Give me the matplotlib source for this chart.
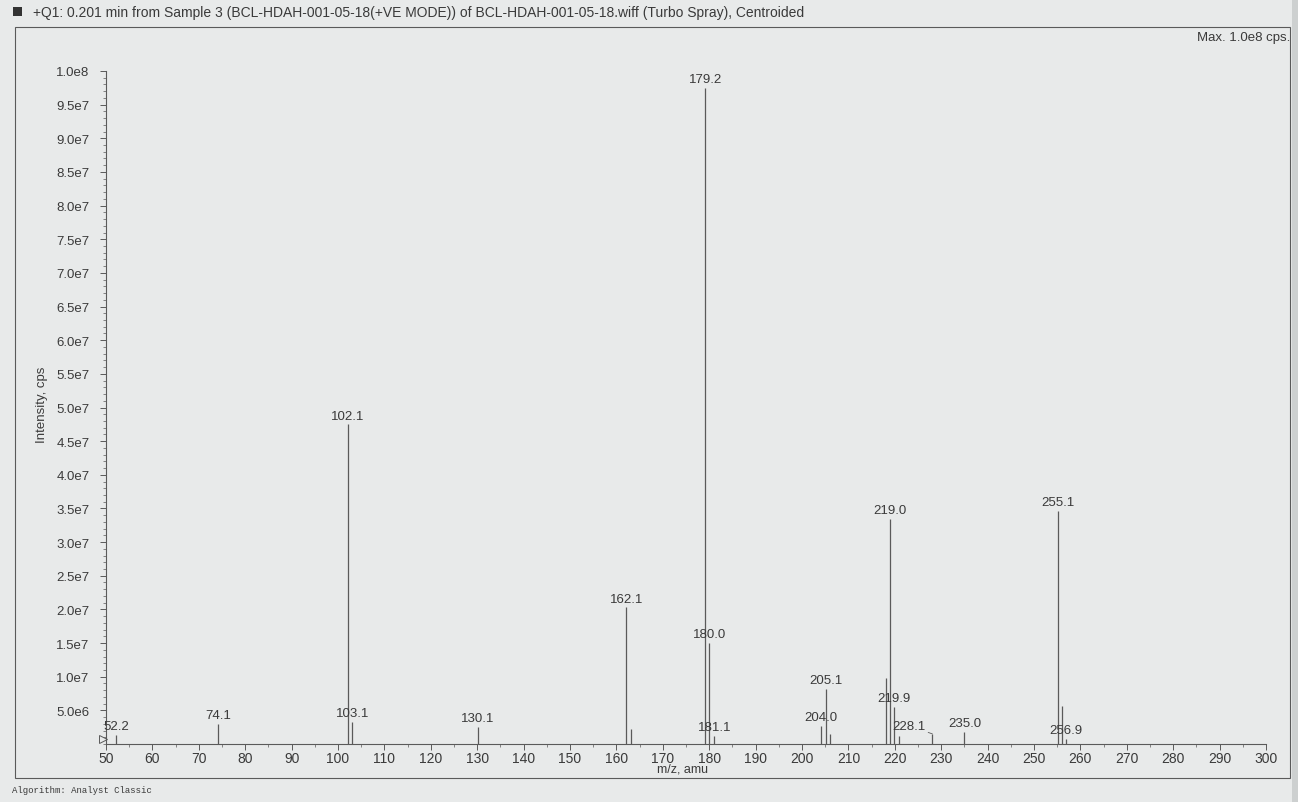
import matplotlib

matplotlib.use("Agg")
import matplotlib.pyplot as plt
import numpy as np
from matplotlib.patches import Rectangle
from matplotlib.ticker import FuncFormatter, MultipleLocator

# centroided peak list: m/z and intensity (cps)
peak_mz = [52.2, 74.1, 102.1, 103.1, 130.1, 162.1, 163.1, 179.2, 180.0, 181.1,
           204.0, 205.1, 206.0, 218.1, 219.0, 219.9, 221.0, 228.1, 235.0,
           255.1, 256.1, 256.9]
peak_int = [1.3e6, 3.0e6, 4.75e7, 3.3e6, 2.5e6, 2.03e7, 2.2e6, 9.75e7, 1.5e7, 1.2e6,
            2.7e6, 8.2e6, 1.5e6, 9.8e6, 3.35e7, 5.5e6, 1.2e6, 1.5e6, 1.8e6,
            3.46e7, 5.6e6, 0.8e6]
labelled_mz = [52.2, 74.1, 102.1, 103.1, 130.1, 162.1, 179.2, 180.0, 181.1,
               204.0, 205.1, 219.0, 219.9, 228.1, 235.0, 255.1, 256.9]

x_range = (50, 300)
y_range = (0, 1.0e8)
y_ticks = np.arange(5e6, 1.0e8 + 1, 5e6)

title = ("+Q1: 0.201 min from Sample 3 (BCL-HDAH-001-05-18(+VE MODE)) of "
         "BCL-HDAH-001-05-18.wiff (Turbo Spray), Centroided")
max_text = "Max. 1.0e8 cps."
footer = "Algorithm: Analyst Classic"

W, H = 1298, 803
INK = "#3a3a3a"
LINE = "#5a5a5a"

plt.rcParams["font.family"] = ["Liberation Sans", "DejaVu Sans"]


def fx(px):
    return px / W


def fy(py):
    return 1 - py / H


def sci_label(v, _pos=None):
    mant, exp = f"{v:.1e}".split("e")
    return f"{mant}e{int(exp)}"


fig = plt.figure(figsize=(W / 100, H / 100), dpi=100)
fig.patch.set_facecolor("#e8eaea")

# outer frame of the printed report
fig.patches.append(Rectangle((fx(15), fy(779)), fx(1290) - fx(15), fy(28) - fy(779),
                             transform=fig.transFigure, fill=False, ec=LINE, lw=0.8))
fig.patches.append(Rectangle((fx(1292), 0), 1 - fx(1292), 1,
                             transform=fig.transFigure, fc="#cdd0d0", ec="none"))
fig.patches.append(Rectangle((fx(13), fy(17)), fx(9), fy(8) - fy(17),
                             transform=fig.transFigure, fc="#333333", ec="none"))

fig.text(fx(33), fy(13), title, fontsize=10, color=INK, va="center")
fig.text(fx(1290), fy(38), max_text, fontsize=9.5, color=INK, ha="right", va="center")
fig.text(fx(12), fy(791), footer, fontsize=6.5, color=INK, va="center",
         family=["Liberation Mono", "DejaVu Sans Mono"])

ax = fig.add_axes([fx(106), fy(745), fx(1266) - fx(106), fy(72) - fy(745)])
ax.patch.set_alpha(0)

ax.vlines(peak_mz, 0, peak_int, color=LINE, lw=0.9)

for m, h in zip(peak_mz, peak_int):
    if m not in labelled_mz:
        continue
    if m == 228.1:
        ax.annotate(f"{m:.1f}", (m, h), xytext=(-17, 6), textcoords="offset points",
                    ha="center", va="center", fontsize=9.5, color=INK,
                    arrowprops=dict(arrowstyle="-", color=LINE, lw=0.6,
                                    shrinkA=0, shrinkB=0))
    else:
        ax.annotate(f"{m:.1f}", (m, h), xytext=(0, 2), textcoords="offset points",
                    ha="center", va="bottom", fontsize=9.5, color=INK)

ax.set_xlim(*x_range)
ax.set_ylim(*y_range)
ax.xaxis.set_major_locator(MultipleLocator(10))
ax.xaxis.set_minor_locator(MultipleLocator(5))
ax.set_yticks(y_ticks)
ax.yaxis.set_minor_locator(MultipleLocator(1e6))
ax.yaxis.set_major_formatter(FuncFormatter(sci_label))

for side in ("top", "right"):
    ax.spines[side].set_visible(False)
for side in ("left", "bottom"):
    ax.spines[side].set_color(LINE)
    ax.spines[side].set_linewidth(0.8)

ax.tick_params(axis="both", which="major", direction="out", length=4, width=0.7,
               color=LINE, labelcolor=INK)
ax.tick_params(axis="x", which="major", labelsize=10, pad=1)
ax.tick_params(axis="y", which="major", labelsize=9.5, pad=8)
ax.tick_params(axis="both", which="minor", direction="out", length=2, width=0.5,
               color=LINE)

# open start-of-scan marker at the origin
ax.plot([-0.003], [0.007], marker=">", ms=6, mfc="none", mec=LINE, mew=0.7,
        transform=ax.transAxes, clip_on=False)

fig.text(fx(42), fy(405), "Intensity, cps", rotation=90, fontsize=9.5, color=INK,
         ha="center", va="center")
fig.text(fx(683), fy(770), "m/z, amu", fontsize=9, color=INK, ha="center", va="center")

fig.savefig("out.png", dpi=100, facecolor=fig.get_facecolor())
